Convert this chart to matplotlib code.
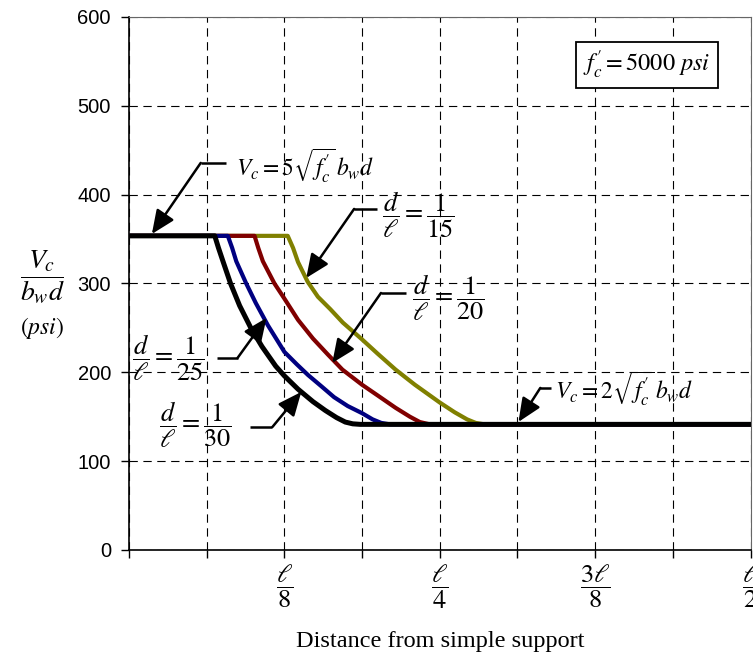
import matplotlib
matplotlib.use('Agg')
import matplotlib.pyplot as plt

plt.rcParams['font.family'] = ['Liberation Sans', 'DejaVu Sans']
plt.rcParams['mathtext.fontset'] = 'stix'
plt.rcParams['lines.scale_dashes'] = False

# shear limits for f'c = 5000 psi
vc_max = 353.6   # 5 sqrt(f'c)
vc_min = 141.4   # 2 sqrt(f'c)

# distance from support (fraction of span) vs Vc/(bw d)
x_15 = [0, 0.1277, 0.132, 0.136, 0.1437, 0.152, 0.162, 0.172, 0.1875, 0.2, 0.2145,
        0.23, 0.25, 0.262, 0.272, 0.279, 0.286, 0.5]
y_15 = [vc_max, vc_max, 340, 324, 302, 285, 271, 256, 237, 221, 203,
        186, 166, 155, 147, 143, vc_min, vc_min]

x_20 = [0, 0.101, 0.104, 0.1077, 0.117, 0.125, 0.136, 0.148, 0.16, 0.1717, 0.1875,
        0.2, 0.2145, 0.226, 0.234, 0.242, 0.5]
y_20 = [vc_max, vc_max, 340, 325, 300, 283, 259, 238, 220, 203, 186,
        174, 160, 150, 144, vc_min, vc_min]

x_25 = [0, 0.0795, 0.083, 0.0863, 0.0943, 0.102, 0.1117, 0.125, 0.135, 0.144, 0.155,
        0.165, 0.176, 0.1875, 0.196, 0.203, 0.21, 0.5]
y_25 = [vc_max, vc_max, 340, 325, 300, 278, 253, 223, 209, 197, 184,
        172, 162, 154, 147, 143, vc_min, vc_min]

x_30 = [0, 0.069, 0.072, 0.0756, 0.0817, 0.089, 0.098, 0.107, 0.118, 0.125, 0.136,
        0.148, 0.158, 0.167, 0.174, 0.18, 0.186, 0.5]
y_30 = [vc_max, vc_max, 340, 325, 300, 275, 250, 229, 207, 196, 181,
        167, 157, 149, 144, 142, vc_min, vc_min]

curves = [(x_15, y_15, '#808000', 3.0),
          (x_20, y_20, '#800000', 3.0),
          (x_25, y_25, '#000080', 3.0),
          (x_30, y_30, 'black', 3.6)]

x_ticks = [i / 16 for i in range(9)]
x_ticklabels = ['', '', r'$\dfrac{\ell}{8}$', '', r'$\dfrac{\ell}{4}$', '',
                r'$\dfrac{3\ell}{8}$', '', r'$\dfrac{\ell}{2}$']
y_ticks = [0, 100, 200, 300, 400, 500, 600]

fig = plt.figure(figsize=(7.53, 6.6), dpi=100)
ax = fig.add_axes([0.1713, 0.1667, 0.8254, 0.8076])

for xs, ys, col, lw in curves:
    ax.plot(xs, ys, color=col, lw=lw, solid_joinstyle='round', zorder=3)

ax.set_xlim(0, 0.5)
ax.set_ylim(0, 600)
ax.set_xticks(x_ticks)
ax.set_xticklabels(x_ticklabels, fontsize=19)
ax.set_yticks(y_ticks)
ax.tick_params(axis='y', labelsize=14.5, length=6, width=1, pad=7)
ax.tick_params(axis='x', length=6, width=1, pad=3)
ax.grid(True, color='black', lw=0.8, linestyle=(0, (6, 4)))
ax.set_axisbelow(True)
for s in ['left', 'bottom']:
    ax.spines[s].set_linewidth(1.2)
for s in ['top', 'right']:
    ax.spines[s].set_linewidth(0.8)
    ax.spines[s].set_color('#666666')


def callout(tip, elbow, end):
    # short horizontal leader next to the text, then the arrow
    ax.plot([elbow[0], end[0]], [elbow[1], end[1]], color='black', lw=1.8,
            solid_capstyle='butt', zorder=5)
    ax.annotate('', xy=tip, xytext=elbow,
                arrowprops=dict(arrowstyle='-|>,head_length=0.8,head_width=0.35',
                                color='black', lw=1.8, shrinkA=0, shrinkB=0,
                                mutation_scale=18), zorder=5)


callout((0.0184, 355.7), (0.0577, 435.7), (0.0777, 435.7))
ax.text(0.0857, 433, r'$V_c = 5\sqrt{f_c^{\prime}}\,b_w d$', fontsize=17, ha='left', va='center')

callout((0.1426, 306.2), (0.1811, 383.9), (0.1995, 383.9))
ax.text(0.2035, 377, r'$\dfrac{d}{\ell} = \dfrac{1}{15}$', fontsize=19, ha='left', va='center')

callout((0.1635, 210.5), (0.2027, 289.3), (0.2228, 289.3))
ax.text(0.228, 284, r'$\dfrac{d}{\ell} = \dfrac{1}{20}$', fontsize=19, ha='left', va='center')

callout((0.1106, 261.2), (0.0873, 216.1), (0.0705, 216.1))
ax.text(0.0609, 216, r'$\dfrac{d}{\ell} = \dfrac{1}{25}$', fontsize=19, ha='right', va='center')

callout((0.1386, 177.9), (0.1154, 138.5), (0.0970, 138.5))
ax.text(0.0825, 141, r'$\dfrac{d}{\ell} = \dfrac{1}{30}$', fontsize=19, ha='right', va='center')

callout((0.3133, 144.1), (0.3309, 182.4), (0.3397, 182.4))
ax.text(0.343, 182, r'$V_c = 2\sqrt{f_c^{\prime}}\,b_w d$', fontsize=17, ha='left', va='center')

ax.text(0.4167, 546, r"$f_c^{\prime} = 5000\ psi$", fontsize=17.5, ha='center', va='center',
        bbox=dict(boxstyle='square,pad=0.3', fc='white', ec='black', lw=1.3), zorder=6)

fig.text(0.0558, 0.580, r'$\dfrac{V_c}{b_w d}$', fontsize=20, ha='center', va='center')
fig.text(0.0558, 0.503, r'$(psi)$', fontsize=17, ha='center', va='center')
fig.text(0.5843, 0.0273, 'Distance from simple support', fontsize=17.5,
         family='Liberation Serif', ha='center', va='center')

fig.savefig('out.png', dpi=100)
